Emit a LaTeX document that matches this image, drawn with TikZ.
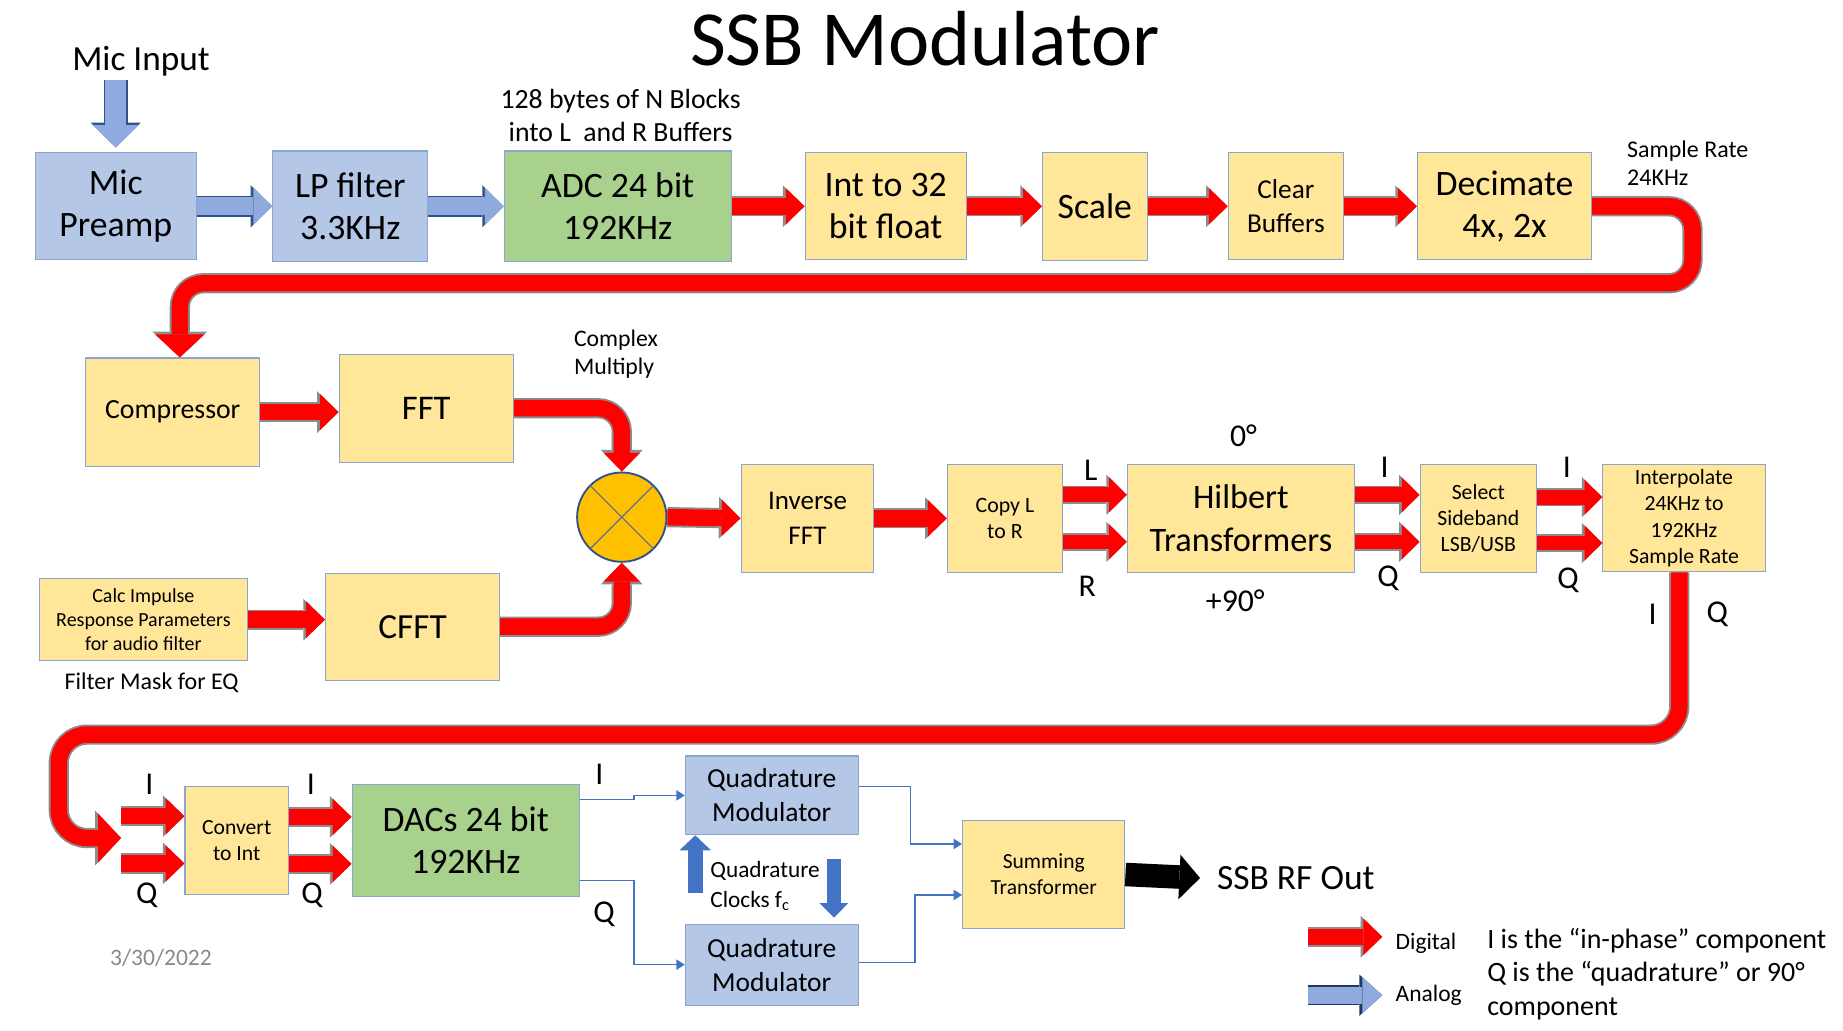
\documentclass[tikz,border=0pt]{standalone}
\usepackage{fontspec}
\setmainfont{Carlito}
\usetikzlibrary{arrows.meta,calc}

\definecolor{boxblue}{RGB}{180,199,231}
\definecolor{boxyellow}{RGB}{255,230,153}
\definecolor{boxgreen}{RGB}{169,209,142}
\definecolor{boxedge}{RGB}{140,165,205}
\definecolor{arrowblue}{RGB}{143,170,220}
\definecolor{navy}{RGB}{47,82,143}
\definecolor{legendnavy}{RGB}{32,56,100}
\definecolor{sigblue}{RGB}{68,114,196}
\definecolor{mixorange}{RGB}{255,192,0}
\definecolor{mixedge}{RGB}{47,82,143}
\definecolor{xgray}{RGB}{90,110,150}
\definecolor{redrim}{RGB}{140,140,140}
\definecolor{dategray}{RGB}{137,137,137}

\begin{document}
\begin{tikzpicture}[x=0.5pt,y=-0.5pt,
    stage/.style={rectangle,draw=boxedge,line width=0.5pt,align=center,inner sep=0pt},
    bluebox/.style={stage,fill=boxblue},
    yellowbox/.style={stage,fill=boxyellow},
    greenbox/.style={stage,fill=boxgreen},
    bigtext/.style={font=\fontsize{15.2}{18}\selectfont},
    iqlab/.style={font=\fontsize{13.5}{16}\selectfont,inner sep=0pt},
    note/.style={inner sep=0pt},
    redarrow/.style={draw=red,line width=7pt,
      -{Triangle[length=8pt,width=15.5pt,line width=0pt]},
      preaction={draw=redrim,line width=8.6pt,
        -{Triangle[length=9.2pt,width=17.8pt,line width=0pt]}}},
    redpair/.style={draw=red,line width=6.25pt,
      -{Triangle[length=7.5pt,width=14.8pt,line width=0pt]},
      preaction={draw=redrim,line width=7.85pt,
        -{Triangle[length=8.7pt,width=17.1pt,line width=0pt]}}},
    redpipe/.style={redarrow,rounded corners=10pt},
    bigpipe/.style={draw=red,line width=7pt,rounded corners=12pt,
      -{Triangle[length=9.8pt,width=21pt,line width=0pt]},
      preaction={draw=redrim,line width=8.6pt,
        -{Triangle[length=11pt,width=23.3pt,line width=0pt]}}},
    bluearrow/.style={draw=arrowblue,line width=7.5pt,
      -{Triangle[length=8pt,width=16pt,line width=0pt]},
      preaction={draw=navy,line width=8.7pt,
        -{Triangle[length=9.1pt,width=17.9pt,line width=0pt]}}},
    micarrow/.style={draw=arrowblue,line width=9pt,
      -{Triangle[length=9.5pt,width=19.5pt,line width=0pt]},
      preaction={draw=navy,line width=10.2pt,
        -{Triangle[length=10.6pt,width=21.3pt,line width=0pt]}}},
    legendblue/.style={draw=arrowblue,line width=7.3pt,
      -{Triangle[length=8.5pt,width=15.5pt,line width=0pt]},
      preaction={draw=legendnavy,line width=8.7pt,
        -{Triangle[length=9.7pt,width=17.5pt,line width=0pt]}}},
    blackarrow/.style={draw=black,line width=10pt,
      -{Triangle[length=8.8pt,width=19pt,line width=0pt]}},
    clkarrow/.style={draw=sigblue,line width=6.5pt,
      -{Triangle[length=6.4pt,width=13.5pt,line width=0pt]}},
    sigline/.style={draw=sigblue,line width=0.6pt,
      -{Triangle[length=3.6pt,width=4.4pt]}},
    mixer/.style={circle,draw=mixedge,line width=0.8pt,fill=mixorange,
      minimum size=38pt,inner sep=0pt},
    xline/.style={draw=xgray,line width=0.5pt}]

  \useasboundingbox (0,0) rectangle (1568,877);

  % first row
  \node[bluebox,bigtext,minimum width=68.5pt,minimum height=45.5pt] (mic) at (98.5,175.5) {Mic\\Preamp};
  \node[bluebox,bigtext,minimum width=66pt,minimum height=47pt] (lp) [node distance=99.75pt,right of=mic] {LP filter\\3.3KHz};
  \node[greenbox,bigtext,minimum width=96.5pt,minimum height=47pt] (adc) [node distance=113.75pt,right of=lp] {ADC 24 bit\\192KHz};
  \node[yellowbox,bigtext,minimum width=68.5pt,minimum height=45.5pt] (int) [node distance=114pt,right of=adc] {Int to 32\\bit float};
  \node[yellowbox,bigtext,minimum width=44.5pt,minimum height=46pt] (scale) [node distance=89pt,right of=int] {Scale};
  \node[yellowbox,font=\fontsize{11.6}{14.5}\selectfont,minimum width=49pt,minimum height=45.5pt] (clear) [node distance=81.25pt,right of=scale] {Clear\\Buffers};
  \node[yellowbox,bigtext,minimum width=74pt,minimum height=45.5pt] (dec) [node distance=93pt,right of=clear] {Decimate\\4x, 2x};

  % second row
  \node[yellowbox,font=\fontsize{11.8}{14.5}\selectfont,minimum width=74pt,minimum height=46pt] (comp) at (147,350.6) {Compressor};
  \node[yellowbox,font=\fontsize{14.7}{18}\selectfont,minimum width=74pt,minimum height=46pt,yshift=1.65pt] (fft) [node distance=107.8pt,right of=comp] {FFT};
  \node[mixer] (mult) at (529,440) {};
  \node[yellowbox,font=\fontsize{8.5}{10.25}\selectfont,minimum width=88.5pt,minimum height=35pt] (calc) at (122,527.2) {Calc Impulse\\Response Parameters\\for audio filter};
  \node[yellowbox,font=\fontsize{15}{18}\selectfont,minimum width=74pt,minimum height=45.5pt,yshift=-3pt] (cfft) [node distance=114.5pt,right of=calc] {CFFT};
  \node[yellowbox,font=\fontsize{11.5}{14.5}\selectfont,minimum width=56.5pt,minimum height=46pt] (inv) at (687,441) {Inverse\\FFT};
  \node[yellowbox,font=\fontsize{9.3}{11}\selectfont,minimum width=49pt,minimum height=46pt] (copy) [node distance=84pt,right of=inv] {Copy L\\to R};
  \node[yellowbox,font=\fontsize{14.6}{18.5}\selectfont,minimum width=96.5pt,minimum height=46pt] (hil) [node distance=100.35pt,right of=copy] {Hilbert\\Transformers};
  \node[yellowbox,font=\fontsize{9.25}{11}\selectfont,minimum width=49.5pt,minimum height=46pt] (sel) [node distance=101pt,right of=hil] {Select\\Sideband\\LSB/USB};
  \node[yellowbox,font=\fontsize{9.25}{11.2}\selectfont,minimum width=69pt,minimum height=45.5pt] (interp) [node distance=87.5pt,right of=sel] {Interpolate\\24KHz to\\192KHz\\Sample Rate};

  % third row
  \node[yellowbox,font=\fontsize{9.2}{11}\selectfont,minimum width=44pt,minimum height=46pt] (conv) at (201.4,715) {Convert\\to Int};
  \node[greenbox,bigtext,minimum width=96.75pt,minimum height=47.5pt] (dac) [node distance=97.45pt,right of=conv] {DACs 24 bit\\192KHz};
  \node[bluebox,font=\fontsize{11.7}{14.5}\selectfont,minimum width=73.5pt,minimum height=33.5pt] (qm1) at (656.6,676.7) {Quadrature\\Modulator};
  \node[bluebox,font=\fontsize{11.7}{14.5}\selectfont,minimum width=73.5pt,minimum height=34.5pt] (qm2) [node distance=72pt,below of=qm1] {Quadrature\\Modulator};
  \node[yellowbox,font=\fontsize{9.15}{11}\selectfont,minimum width=69pt,minimum height=46pt] (st) at (888,744) {Summing\\Transformer};

  % texts
  \node[font=\fontsize{33.2}{40}\selectfont] (title) at (787,33) {SSB Modulator};
  \node[font=\fontsize{15}{18}\selectfont] (micin) at (120,52) {Mic Input};
  \node[font=\fontsize{11.8}{14}\selectfont,align=center] (blocks) at (528,98) {128 bytes of N Blocks\\into L~ and R Buffers};
  \node[note,font=\fontsize{10.2}{12}\selectfont,align=left,anchor=west] (rate) at (1384,139) {Sample Rate\\24KHz};
  \node[note,font=\fontsize{10.1}{12}\selectfont,align=left,anchor=west] (cmplx) at (488,301) {Complex\\Multiply};
  \node[font=\fontsize{10.2}{12}\selectfont] (mask) at (129,581) {Filter Mask for EQ};
  \node[font=\fontsize{10}{12}\selectfont,text=dategray] (date) at (137,815) {3/30/2022};
  \node[note,font=\fontsize{9.9}{12.5}\selectfont,align=left,anchor=west] (clktxt) at (604,754) {Quadrature\\Clocks f\textsubscript{c}};
  \node[note,font=\fontsize{15.1}{18}\selectfont,anchor=west] (rfout) at (1035,747) {SSB RF Out};

  \node[iqlab] (labl) at (928,400) {L};
  \node[iqlab] (labr) at (925,499) {R};
  \node[iqlab] (zerodeg) at (1058,371) {0°};
  \node[iqlab] (ninetydeg) at (1051,511) {+90°};
  \node[iqlab] (hili) at (1178,398) {I};
  \node[iqlab] (hilq) at (1181,492) {Q};
  \node[iqlab] (seli) at (1333,398) {I};
  \node[iqlab] (selq) at (1334,494) {Q};
  \node[iqlab] (inti) at (1406,523) {I};
  \node[iqlab] (intq) at (1461,523) {Q};
  \node[iqlab] (convini) at (127,667) {I};
  \node[iqlab] (convinq) at (125,762) {Q};
  \node[iqlab] (convouti) at (264.5,667) {I};
  \node[iqlab] (convoutq) at (265.5,762) {Q};
  \node[iqlab] (daci) at (510,659) {I};
  \node[iqlab] (dacq) at (514,778) {Q};

  % mixer cross
  \draw[xline] (mult.north east) -- (mult.south west);
  \draw[xline] (mult.north west) -- (mult.south east);

  % analog arrows
  \coordinate (micsrc) at (98.5,68);
  \draw[micarrow] (micsrc) -- ($(mic.north)+(0,-4)$);
  \draw[bluearrow] (mic.east) -- (lp.west);
  \draw[bluearrow] (lp.east) -- (adc.west);

  % digital arrows
  \draw[redarrow] (adc.east) -- (int.west);
  \draw[redarrow] (int.east) -- (scale.west);
  \draw[redarrow] (scale.east) -- (clear.west);
  \draw[redarrow] (clear.east) -- (dec.west);
  \draw[bigpipe,rounded corners=10pt] (dec.east) -| (1440,241) -| ([xshift=3pt]comp.north);
  \draw[redarrow] (comp.east) -- (comp.east -| fft.west);
  \draw[redpipe] (fft.east) -| (mult.north);
  \draw[redarrow] (calc.east) -- (calc.east -| cfft.west);
  \draw[redpipe] (cfft.east) -| (mult.south);
  \draw[redarrow] (mult.east) -- (inv.west);
  \draw[redarrow] (inv.east) -- (copy.west);
  \draw[redpair] ([yshift=10pt]copy.east) -- ([yshift=10pt]hil.west);
  \draw[redpair] ([yshift=-10pt]copy.east) -- ([yshift=-10pt]hil.west);
  \draw[redpair] ([yshift=10pt]hil.east) -- ([yshift=10pt]sel.west);
  \draw[redpair] ([yshift=-10pt]hil.east) -- ([yshift=-10pt]sel.west);
  \draw[redpair] ([yshift=9pt]sel.east) -- ([yshift=9pt]interp.west);
  \draw[redpair] ([yshift=-10.5pt]sel.east) -- ([yshift=-10.5pt]interp.west);
  \coordinate (iqtip) at (103,713);
  \draw[bigpipe] ([xshift=-2pt]interp.south) |- (50,625) |- (iqtip);
  \draw[redarrow] ([yshift=10.3pt]conv.west -| iqtip) -- ([yshift=10.3pt]conv.west);
  \draw[redarrow] ([yshift=-9.8pt]conv.west -| iqtip) -- ([yshift=-9.8pt]conv.west);
  \draw[redarrow] ([yshift=10pt]conv.east) -- ([yshift=10pt]dac.west);
  \draw[redarrow] ([yshift=-10pt]conv.east) -- ([yshift=-10pt]dac.west);

  % modulator wiring
  \draw[sigline] ([yshift=17.3pt]dac.east) -- ++(46,0) |- (qm1.west);
  \draw[sigline] ([yshift=-17pt]dac.east) -- ++(46,0) |- (qm2.west);
  \draw[sigline] ([yshift=3.75pt]qm1.east) -- ++(44,0) |- ([yshift=13pt]st.west);
  \draw[sigline] ([yshift=1pt]qm2.east) -- ++(48,0) |- ([yshift=-8.7pt]st.west);
  \coordinate (clkup) at (591.5,760);
  \draw[clkarrow] (clkup) -- (clkup |- qm1.south);
  \coordinate (clkdn) at (709.5,731);
  \draw[clkarrow,-{Triangle[length=6.2pt,width=12.3pt,line width=0pt]},line width=5.8pt] (clkdn) -- ($(clkdn |- qm2.north)+(0,-5)$);
  \draw[blackarrow] (st.east) -- ([xshift=-7pt]rfout.west);

  % legend
  \node[note,font=\fontsize{10}{12}\selectfont,anchor=west] (digital) at (1187,803) {Digital};
  \node[note,font=\fontsize{10}{12}\selectfont,anchor=west] (analog) at (1187,847) {Analog};
  \coordinate (digfrom) at (1113,797);
  \coordinate (anafrom) at (1113,846.7);
  \draw[redarrow] (digfrom) -- ++(63,0);
  \draw[legendblue] (anafrom) -- ++(63,0);
  \node[note,font=\fontsize{11.9}{14.25}\selectfont,align=left,anchor=west] (iqnote) at (1265,828.5)
    {I is the “in-phase” component\\Q is the “quadrature” or 90°\\component};
\end{tikzpicture}
\end{document}
